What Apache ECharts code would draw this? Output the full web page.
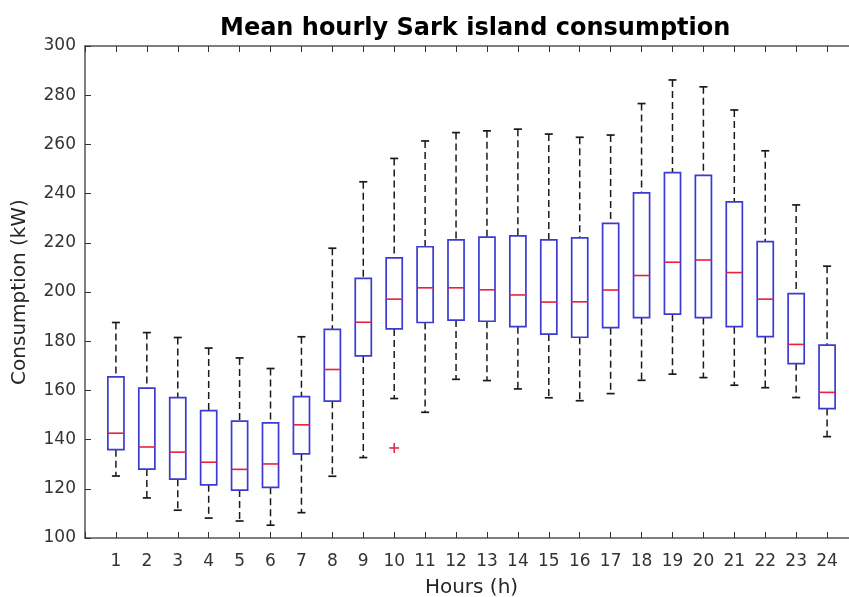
<!DOCTYPE html>
<html>
<head>
<meta charset="utf-8">
<script src="https://cdn.jsdelivr.net/npm/echarts@6/dist/echarts.min.js"></script>
<style>
html, body { margin: 0; padding: 0; background: #fff; }
#chart { width: 849px; height: 597px; }
</style>
</head>
<body>
<div id="chart"></div>
<script>
// hours of the day
var hours = [1, 2, 3, 4, 5, 6, 7, 8, 9, 10, 11, 12, 13, 14, 15, 16, 17, 18, 19, 20, 21, 22, 23, 24];
// box plot statistics (kW)
var whiskerLow  = [125.2, 116.3, 111.3, 108.1, 106.9, 105.2, 110.3, 125.1, 132.7, 156.7, 151.1, 164.5, 164.0, 160.6, 157.0, 155.8, 158.7, 164.1, 166.6, 165.2, 162.1, 161.1, 157.1, 141.2];
var quart1      = [135.9, 128.0, 123.9, 121.6, 119.5, 120.6, 134.2, 155.6, 174.0, 185.0, 187.6, 188.6, 188.1, 185.9, 182.9, 181.6, 185.5, 189.6, 191.0, 189.6, 185.9, 181.9, 170.9, 152.6];
var medians     = [142.6, 137.0, 134.9, 130.8, 127.9, 130.1, 146.0, 168.5, 187.7, 197.1, 201.7, 201.7, 200.9, 198.8, 195.9, 196.0, 200.8, 206.7, 212.1, 213.0, 207.9, 197.1, 178.7, 159.2];
var quart3      = [165.5, 160.9, 157.1, 151.8, 147.5, 146.8, 157.5, 184.8, 205.5, 213.9, 218.4, 221.2, 222.3, 222.8, 221.2, 222.0, 227.9, 240.3, 248.5, 247.4, 236.6, 220.5, 199.3, 178.4];
var whiskerHigh = [187.6, 183.5, 181.5, 177.2, 173.2, 168.9, 181.8, 217.8, 244.8, 254.3, 261.4, 264.8, 265.5, 266.2, 264.2, 262.9, 263.8, 276.6, 286.2, 283.4, 274.0, 257.4, 235.4, 210.5];
// outliers: [hour, value]
var outlierHours  = [10];
var outlierValues = [136.6];
// axis tick labels
var yTicks = [100, 120, 140, 160, 180, 200, 220, 240, 260, 280, 300];

var boxData = hours.map(function (h, i) {
    return [h, whiskerLow[i], quart1[i], medians[i], quart3[i], whiskerHigh[i]];
});
var outlierData = outlierHours.map(function (h, i) {
    return [h, outlierValues[i]];
});

var labelFont = 'DejaVu Sans';
var axisColor = '#555';

//画箱线
function renderBox(params, api) {
    var x = api.value(0);
    var lo = api.coord([x, api.value(1)]);
    var q1 = api.coord([x, api.value(2)]);
    var md = api.coord([x, api.value(3)]);
    var q3 = api.coord([x, api.value(4)]);
    var hi = api.coord([x, api.value(5)]);
    var unit = api.size([1, 0])[0];
    var half = unit * 0.26;
    var cap = unit * 0.13;
    var cx = md[0];
    var dashed = { stroke: '#1a1a1a', lineWidth: 1.5, lineDash: [7, 4] };
    var solid = { stroke: '#1a1a1a', lineWidth: 1.7 };
    return {
        type: 'group',
        children: [
            { type: 'line', shape: { x1: cx, y1: hi[1], x2: cx, y2: q3[1] }, style: dashed },
            { type: 'line', shape: { x1: cx, y1: q1[1], x2: cx, y2: lo[1] }, style: dashed },
            { type: 'line', shape: { x1: cx - cap, y1: hi[1], x2: cx + cap, y2: hi[1] }, style: solid },
            { type: 'line', shape: { x1: cx - cap, y1: lo[1], x2: cx + cap, y2: lo[1] }, style: solid },
            { type: 'rect', shape: { x: cx - half, y: q3[1], width: half * 2, height: q1[1] - q3[1] },
              style: { fill: 'rgba(0,0,0,0)', stroke: '#3b3bd4', lineWidth: 1.7 } },
            { type: 'line', shape: { x1: cx - half, y1: md[1], x2: cx + half, y2: md[1] },
              style: { stroke: '#e8203c', lineWidth: 1.6 } }
        ]
    };
}

//画异常点 +
function renderOutlier(params, api) {
    var p = api.coord([api.value(0), api.value(1)]);
    var s = 5;
    var st = { stroke: '#e8203c', lineWidth: 1.5 };
    return {
        type: 'group',
        children: [
            { type: 'line', shape: { x1: p[0] - s, y1: p[1], x2: p[0] + s, y2: p[1] }, style: st },
            { type: 'line', shape: { x1: p[0], y1: p[1] - s, x2: p[0], y2: p[1] + s }, style: st }
        ]
    };
}

var chart = echarts.init(document.getElementById('chart'));
chart.setOption({
    animation: false,
    backgroundColor: '#fff',
    title: {
        text: 'Mean hourly Sark island consumption',
        left: 215,
        top: 12,
        textStyle: { fontFamily: 'DejaVu Sans', fontWeight: 'bold', fontSize: 24, color: '#000' }
    },
    grid: { left: 85, top: 46, width: 773, height: 492, outerBoundsMode: 'none', containLabel: false },
    xAxis: [{
        type: 'value',
        min: 0,
        max: 25,
        interval: 1,
        position: 'bottom',
        name: 'Hours (h)',
        nameLocation: 'middle',
        nameGap: 40,
        nameTextStyle: { fontFamily: labelFont, fontSize: 20, color: '#262626' },
        axisLine: { lineStyle: { color: axisColor, width: 1.5 } },
        axisTick: { inside: true, length: 6, lineStyle: { color: '#333' } },
        axisLabel: {
            margin: 15,
            fontFamily: labelFont, fontSize: 17, color: '#333',
            formatter: function (v) { return (v >= 1 && v <= 24) ? String(v) : ''; }
        },
        splitLine: { show: false }
    }, {
        type: 'value',
        min: 0,
        max: 25,
        interval: 1,
        position: 'top',
        axisLine: { lineStyle: { color: axisColor, width: 1.5 } },
        axisTick: { inside: true, length: 6, lineStyle: { color: '#333' } },
        axisLabel: { show: false },
        splitLine: { show: false }
    }],
    yAxis: {
        type: 'value',
        min: yTicks[0],
        max: yTicks[yTicks.length - 1],
        interval: yTicks[1] - yTicks[0],
        name: 'Consumption (kW)',
        nameLocation: 'middle',
        nameGap: 55,
        nameTextStyle: { fontFamily: labelFont, fontSize: 20, color: '#262626' },
        axisLine: { show: true, lineStyle: { color: axisColor, width: 1.5 } },
        axisTick: { show: true, inside: true, length: 6, lineStyle: { color: '#333' } },
        axisLabel: { margin: 9, fontFamily: labelFont, fontSize: 17, color: '#333' },
        splitLine: { show: false }
    },
    series: [{
        type: 'custom',
        xAxisIndex: 0,
        renderItem: renderBox,
        encode: { x: 0, y: [1, 2, 3, 4, 5] },
        data: boxData
    }, {
        type: 'custom',
        xAxisIndex: 0,
        renderItem: renderOutlier,
        encode: { x: 0, y: 1 },
        data: outlierData
    }]
});
</script>
</body>
</html>
